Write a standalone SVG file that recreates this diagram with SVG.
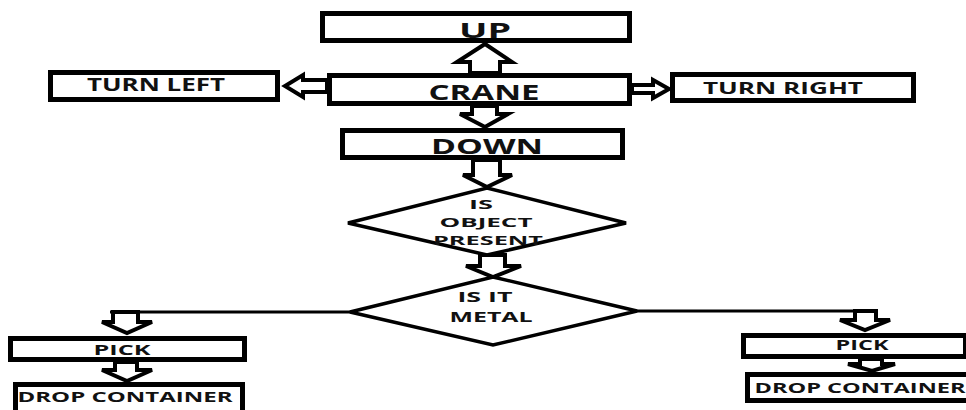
<svg xmlns="http://www.w3.org/2000/svg" width="966" height="410" viewBox="0 0 966 410">
<style>
.box{fill:#fff;stroke:#000;stroke-width:5}
.dia{fill:#fff;stroke:#000;stroke-width:3.5}
.blk{fill:#fff;stroke:#000;stroke-width:4;stroke-linejoin:miter}
.ln{fill:none;stroke:#000;stroke-width:3}
text{font-family:"Open Sans","Liberation Sans",sans-serif;font-weight:bold;fill:#111;text-anchor:middle}
</style>
<rect width="966" height="410" fill="#fff"/>
<g id="connectors">
<polygon class="blk" points="470,73 470,62 457,62 485,44 512,62 500,62 500,73"/>
<polygon class="blk" points="472,106 472,114 460,114 485,127 508,114 497,114 497,106"/>
<polygon class="blk" points="327,80 303,80 303,75 285,86 303,97 303,92 327,92"/>
<polygon class="blk" points="632,85 653,85 653,80 669,89 653,98 653,93 632,93"/>
<polygon class="blk" points="473,160 473,175 463,175 487,187 512,175 500,175 500,160"/>
<polygon class="blk" points="480,255 480,266 466,266 493,277 521,266 505,266 505,255"/>
<polyline class="ln" points="350,312 110,312"/>
<polygon class="blk" points="113,312 113,322 102,322 127,333 152,322 138,322 138,312"/>
<polyline class="ln" points="637,311 877,311"/>
<polygon class="blk" points="855,311 855,320 840,320 865,330 890,320 876,320 876,311"/>
<polygon class="blk" points="115,362 115,370 102,370 127,381 152,370 137,370 137,362"/>
<polygon class="blk" points="860,359 860,364 848,364 872,371 895,364 882,364 882,359"/>
</g>
<g id="up"><rect class="box" x="322.5" y="13.5" width="307" height="27"/><text x="485" y="38" font-size="21" textLength="52" lengthAdjust="spacingAndGlyphs">UP</text></g>
<g id="crane"><rect class="box" x="329.5" y="75.5" width="300" height="28"/><text x="484" y="100" font-size="21" textLength="111" lengthAdjust="spacingAndGlyphs">CRANE</text></g>
<g id="down"><rect class="box" x="342.5" y="130.5" width="280" height="27"/><text x="487" y="154" font-size="21" textLength="112" lengthAdjust="spacingAndGlyphs">DOWN</text></g>
<g id="turn-left"><rect class="box" x="50.5" y="72.5" width="227" height="27"/><text x="156" y="91" font-size="17" textLength="138" lengthAdjust="spacingAndGlyphs">TURN LEFT</text></g>
<g id="turn-right"><rect class="box" x="672.5" y="74.5" width="241" height="26"/><text x="783" y="94" font-size="16" textLength="160" lengthAdjust="spacingAndGlyphs">TURN RIGHT</text></g>
<g id="object-present"><polygon class="dia" points="487,188 626,223 487,255 348,223"/>
<text x="481" y="209" font-size="13" textLength="24" lengthAdjust="spacingAndGlyphs">IS</text>
<text x="486" y="227" font-size="13" textLength="93" lengthAdjust="spacingAndGlyphs">OBJECT</text>
<text x="488" y="245" font-size="13" textLength="110" lengthAdjust="spacingAndGlyphs">PRESENT</text></g>
<g id="is-metal"><polygon class="dia" points="493,277 637,311 493,345 350,312"/>
<text x="485" y="302" font-size="15" textLength="55" lengthAdjust="spacingAndGlyphs">IS IT</text>
<text x="491" y="322" font-size="15" textLength="83" lengthAdjust="spacingAndGlyphs">METAL</text></g>
<g id="pick-left"><rect class="box" x="10.5" y="338.5" width="234" height="21"/><text x="122" y="355" font-size="14" textLength="57" lengthAdjust="spacingAndGlyphs">PICK</text></g>
<g id="drop-left"><rect class="box" x="15.5" y="384.5" width="227" height="30"/><text x="125" y="402" font-size="15" textLength="215" lengthAdjust="spacingAndGlyphs">DROP CONTAINER</text></g>
<g id="pick-right"><rect class="box" x="743.5" y="335.5" width="222" height="21"/><text x="862" y="350" font-size="14" textLength="53" lengthAdjust="spacingAndGlyphs">PICK</text></g>
<g id="drop-right"><rect class="box" x="747.5" y="374.5" width="225" height="26"/><text x="860" y="393" font-size="15" textLength="211" lengthAdjust="spacingAndGlyphs">DROP CONTAINER</text></g>
</svg>
